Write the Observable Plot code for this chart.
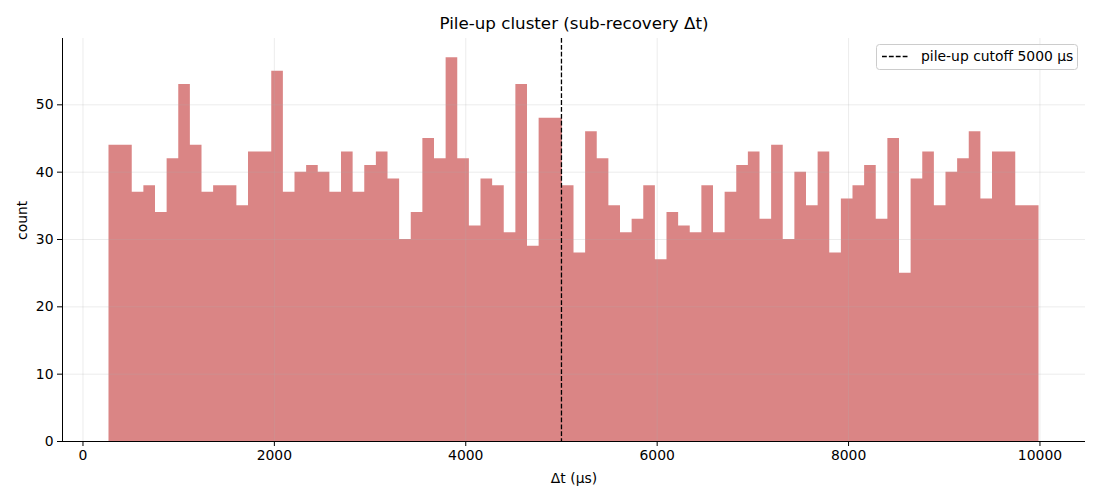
<!DOCTYPE html>
<html>
<head>
<meta charset="utf-8">
<script src="https://cdn.jsdelivr.net/npm/d3@7"></script>
<script src="https://cdn.jsdelivr.net/npm/@observablehq/plot@0.6"></script>
<style>
  html, body { margin: 0; padding: 0; background: #fff; }
  #chart { width: 1100px; height: 500px; }
</style>
</head>
<body>
<div id="chart"></div>
<script>
// Histogram: 80 equal-width bins between the observed min and max Δt
const binLo = 272;
const binHi = 9990;
const counts = [
  44, 44, 37, 38, 34, 42, 53, 44, 37, 38,
  38, 35, 43, 43, 55, 37, 40, 41, 40, 37,
  43, 37, 41, 43, 39, 30, 34, 45, 42, 57,
  42, 32, 39, 38, 31, 53, 29, 48, 48, 38,
  28, 46, 42, 35, 31, 33, 38, 27, 34, 32,
  31, 38, 31, 37, 41, 43, 33, 44, 30, 40,
  35, 43, 28, 36, 38, 41, 33, 45, 25, 39,
  43, 35, 40, 42, 46, 36, 43, 43, 35, 35
];
const cutoff = 5000;
const xTicks = [0, 2000, 4000, 6000, 8000, 10000];
const yTicks = [0, 10, 20, 30, 40, 50];
const titleText = "Pile-up cluster (sub-recovery Δt)";
const xLabel = "Δt (µs)";
const yLabel = "count";
const legendText = "pile-up cutoff 5000 µs";

const binW = (binHi - binLo) / counts.length;
// step outline of the histogram: each bin's left edge with its count, closed at the right edge
const steps = counts.map((c, i) => ({x: binLo + i * binW, count: c}));
steps.push({x: binHi, count: counts[counts.length - 1]});
const span = binHi - binLo;
const xDomain = [binLo - 0.05 * span, binHi + 0.05 * span];
const yDomain = [0, d3.max(counts) * 1.05];

const W = 1100, H = 500;
const mL = 62, mR = 15, mT = 38, mB = 59;
const font = "DejaVu Sans, sans-serif";
const fs = 13.9;

const plot = Plot.plot({
  width: W,
  height: H,
  marginLeft: mL,
  marginRight: mR,
  marginTop: mT,
  marginBottom: mB,
  style: {fontFamily: font, fontSize: fs + "px", color: "#000", background: "#fff"},
  x: {domain: xDomain, ticks: xTicks},
  y: {domain: yDomain, ticks: yTicks},
  marks: [
    Plot.areaY(steps, {x: "x", y: "count", curve: "step-after", fill: "indianred", fillOpacity: 0.75}),
    Plot.gridX(xTicks, {stroke: "#b0b0b0", strokeOpacity: 0.3, strokeWidth: 0.8}),
    Plot.gridY(yTicks, {stroke: "#b0b0b0", strokeOpacity: 0.3, strokeWidth: 0.8}),
    Plot.ruleX([cutoff], {stroke: "#000", strokeWidth: 1.3, strokeDasharray: "4.8,2.1"}),
    Plot.axisX(xTicks, {tickSize: 5, tickPadding: 4, fontSize: fs, label: null, tickFormat: d => String(d)}),
    Plot.axisY(yTicks, {tickSize: 5, tickPadding: 4, fontSize: fs, label: null}),
    Plot.ruleX([xDomain[0]], {stroke: "#000", strokeWidth: 1}),
    Plot.ruleY([0], {stroke: "#000", strokeWidth: 1}),
    Plot.text([titleText], {frameAnchor: "top", dy: -mT + 23, text: d => d, fontSize: 16.7, fill: "#000", lineAnchor: "middle"}),
    Plot.text([xLabel], {frameAnchor: "bottom", dy: 37, text: d => d, fontSize: fs, fill: "#000", lineAnchor: "middle"}),
    Plot.text([yLabel], {frameAnchor: "left", dx: -40, text: d => d, fontSize: fs, fill: "#000", rotate: -90, lineAnchor: "middle"})
  ]
});

// Legend box (top-right, inside the frame)
const svg = d3.select(plot);
const lg = svg.append("g").attr("font-family", font).attr("font-size", fs).attr("text-anchor", "start");
lg.append("rect")
  .attr("x", 876.5).attr("y", 44.5).attr("width", 201).attr("height", 25)
  .attr("rx", 3).attr("fill", "#fff").attr("fill-opacity", 0.8)
  .attr("stroke", "#cccccc").attr("stroke-width", 1);
lg.append("line")
  .attr("x1", 882).attr("x2", 909).attr("y1", 56.5).attr("y2", 56.5)
  .attr("stroke", "#000").attr("stroke-width", 1.3).attr("stroke-dasharray", "4.8,2.1");
lg.append("text")
  .attr("x", 921).attr("y", 56.5).attr("dy", "0.35em").attr("fill", "#000")
  .attr("text-anchor", "start")
  .text(legendText);

document.getElementById("chart").appendChild(plot);
</script>
</body>
</html>
